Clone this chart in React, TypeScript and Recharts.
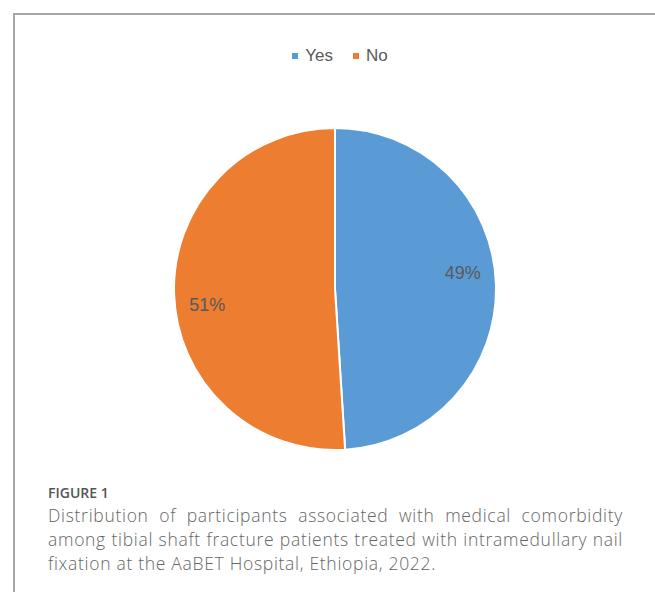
import { PieChart, Pie, Cell } from "recharts";

// comorbidity split among patients
const categories = ["Yes", "No"];
const shares = [49, 51];
const sliceColors = ["#5B9BD5", "#ED7D31"];

const captionLines = [
  "Distribution of participants associated with medical comorbidity",
  "among tibial shaft fracture patients treated with intramedullary nail",
  "fixation at the AaBET Hospital, Ethiopia, 2022.",
];

const RAD = Math.PI / 180;
const labelFont = "'Liberation Sans', Arial, sans-serif";

function PercentLabel(props: any) {
  const { cx, cy, midAngle, outerRadius, value } = props;
  const r = outerRadius * 0.8;
  const a = midAngle + 5.5;
  const x = cx + r * Math.cos(-a * RAD);
  const y = cy + r * Math.sin(-a * RAD);
  return (
    <text
      x={x}
      y={y}
      fill="#595959"
      fontSize={18}
      fontFamily={labelFont}
      textAnchor="middle"
      dominantBaseline="central"
    >
      {`${value}%`}
    </text>
  );
}

function LegendRow() {
  return (
    <div style={{ display: "flex", justifyContent: "center", alignItems: "center" }}>
      {categories.map((name, i) => (
        <div
          key={name}
          style={{ display: "flex", alignItems: "center", marginLeft: i === 0 ? 0 : 20 }}
        >
          <span
            style={{ width: 6, height: 6, background: sliceColors[i], display: "inline-block", marginRight: 7 }}
          />
          <span style={{ fontFamily: labelFont, fontSize: 17, color: "#595959", lineHeight: "20px" }}>
            {name}
          </span>
        </div>
      ))}
    </div>
  );
}

export default function App() {
  const data = categories.map((name, i) => ({ name, value: shares[i] }));
  return (
    <div style={{ position: "absolute", left: 0, top: 0, width: 655, height: 592, background: "#fff", overflow: "hidden" }}>
      <div
        style={{
          position: "absolute",
          left: 13,
          top: 13,
          width: 700,
          height: 640,
          borderTop: "2px solid #a6a6a6",
          borderLeft: "2px solid #a6a6a6",
        }}
      />
      <div style={{ position: "absolute", left: 30, top: 46, width: 620 }}>
        <LegendRow />
      </div>
      <div style={{ position: "absolute", left: 0, top: 0 }}>
        <PieChart width={655} height={470} margin={{ top: 0, right: 0, bottom: 0, left: 0 }}>
          <Pie
            data={data}
            dataKey="value"
            nameKey="name"
            cx={335}
            cy={289}
            outerRadius={161}
            startAngle={90}
            endAngle={-270}
            stroke="#ffffff"
            strokeWidth={2}
            label={PercentLabel}
            labelLine={false}
            isAnimationActive={false}
          >
            {data.map((d, i) => (
              <Cell key={d.name} fill={sliceColors[i]} />
            ))}
          </Pie>
        </PieChart>
      </div>
      <div
        style={{
          position: "absolute",
          left: 48,
          top: 484,
          fontFamily: "'Open Sans', sans-serif",
          fontWeight: 600,
          fontSize: 14,
          color: "#555",
          lineHeight: "18px",
        }}
      >
        FIGURE 1
      </div>
      <div
        style={{
          position: "absolute",
          left: 48,
          top: 503,
          width: 575,
          fontFamily: "'Open Sans', sans-serif",
          fontWeight: 300,
          fontSize: 17.5,
          letterSpacing: 0.7,
          color: "#666",
          lineHeight: "24px",
        }}
      >
        {captionLines.map((line, i) => (
          <div
            key={i}
            style={{
              textAlign: "justify",
              textAlignLast: i < captionLines.length - 1 ? "justify" : "left",
              whiteSpace: "nowrap",
            }}
          >
            {line}
          </div>
        ))}
      </div>
    </div>
  );
}
